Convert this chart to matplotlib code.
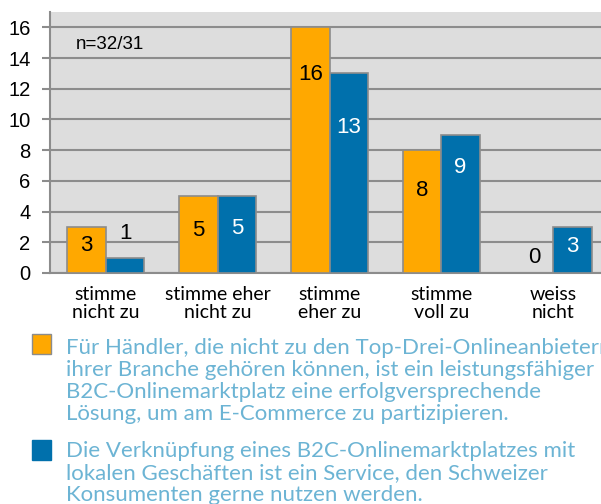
import matplotlib
matplotlib.use("Agg")
import matplotlib.pyplot as plt
from matplotlib.patches import Rectangle
import numpy as np

categories = ["stimme\nnicht zu", "stimme eher\nnicht zu", "stimme\neher zu", "stimme\nvoll zu", "weiss\nnicht"]
haendler = [3, 5, 16, 8, 0]
konsumenten = [1, 5, 13, 9, 3]
label_y_haendler = [1.8, 2.8, 12.9, 5.4, 1.0]
label_y_konsumenten = [2.6, 2.9, 9.5, 6.9, 1.7]
legend_labels = [
    "Für Händler, die nicht zu den Top-Drei-Onlineanbietern\nihrer Branche gehören können, ist ein leistungsfähiger\nB2C-Onlinemarktplatz eine erfolgversprechende\nLösung, um am E-Commerce zu partizipieren.",
    "Die Verknüpfung eines B2C-Onlinemarktplatzes mit\nlokalen Geschäften ist ein Service, den Schweizer\nKonsumenten gerne nutzen werden.",
]
yticks = [0, 2, 4, 6, 8, 10, 12, 14, 16]
note = "n=32/31"

orange = "#FFA800"
blue = "#0070AC"
grid_c = "#8C8C8C"
bg = "#DDDDDD"
legend_text_c = "#6CB4D4"

W, H = 601, 504
fig = plt.figure(figsize=(W / 100, H / 100), dpi=100)
left, right, top, bottom = 50, 609, 12, 273
ax = fig.add_axes([left / W, 1 - bottom / H, (right - left) / W, (bottom - top) / H])
ax.set_facecolor(bg)

x = np.arange(len(categories))
bw = 0.345
ax.bar(x - bw / 2, haendler, bw, color=orange, edgecolor=grid_c, linewidth=1.2, zorder=3)
ax.bar(x + bw / 2, konsumenten, bw, color=blue, edgecolor=grid_c, linewidth=1.2, zorder=3)

for i in range(len(categories)):
    ax.text(x[i] - bw / 2, label_y_haendler[i], str(haendler[i]), ha="center", va="center",
            fontsize=16, color="black", family="Liberation Sans", zorder=4)
    c = "black" if konsumenten[i] <= 1 else "white"
    ax.text(x[i] + bw / 2, label_y_konsumenten[i], str(konsumenten[i]), ha="center", va="center",
            fontsize=16, color=c, family="Liberation Sans", zorder=4)

ax.set_xlim(-0.5, len(categories) - 0.5)
ax.set_ylim(0, 17.0)
ax.set_yticks(yticks)
ax.set_yticklabels([str(t) for t in yticks], family="Liberation Sans", fontsize=14.5)
ax.yaxis.grid(True, color=grid_c, linewidth=1.5, zorder=0)
ax.set_axisbelow(True)
ax.set_xticks(x)
ax.set_xticklabels(categories, family="Lato", fontsize=14, linespacing=1.12)
ax.tick_params(axis="x", length=0, pad=9)
ax.tick_params(axis="y", length=6, width=1.5, color=grid_c, pad=8)
for s in ["top", "right"]:
    ax.spines[s].set_visible(False)
for s in ["left", "bottom"]:
    ax.spines[s].set_color(grid_c)
    ax.spines[s].set_linewidth(1.5)

ax.text((76 - left) / (right - left), (273 - 44.5) / (bottom - top), note,
        transform=ax.transAxes, fontsize=13.5, family="Liberation Sans", va="center", ha="left")

# legend
colors = [orange, blue]
sq_top = [334, 440]
last_base = [420, 501]
for c, lab, yy, tb in zip(colors, legend_labels, sq_top, last_base):
    fig.patches.append(Rectangle((31.5 / W, 1 - (yy + 19.5) / H), 19.5 / W, 19.5 / H, transform=fig.transFigure,
                                 facecolor=c, edgecolor=grid_c if c == orange else c, linewidth=1.0))
    fig.text(66 / W, 1 - tb / H, lab, fontsize=16, family="Lato", color=legend_text_c,
             va="baseline", ha="left", linespacing=1.12)

fig.savefig("out.png", dpi=100)
